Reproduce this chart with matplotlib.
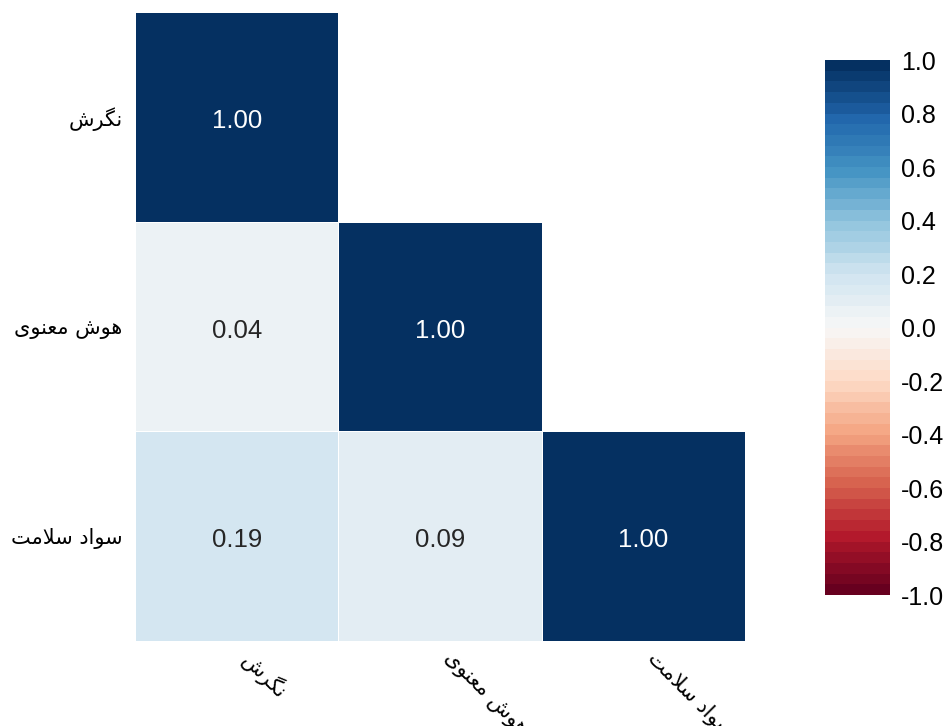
import numpy as np
import matplotlib
matplotlib.use("Agg")
import matplotlib.pyplot as plt
from matplotlib.colors import ListedColormap, BoundaryNorm

# Labels (logical order) and their visual, pre-shaped forms
labels = ["نگرش", "هوش معنوی", "سواد سلامت"]
labels_shaped = [
    "\uFEB5\uFEAE\uFB95\uFEE7",
    "\uFBFC\uFEEE\uFEE8\uFECC\uFEE3 \uFEB5\uFEEE\uFEEB",
    "\uFE96\uFEE3\uFEFC\uFEB3 \uFEA9\uFE8D\uFEEE\uFEB3",
]
corr = np.array([
    [1.00, np.nan, np.nan],
    [0.042, 1.00, np.nan],
    [0.19, 0.09, 1.00],
])
cbar_ticks = [-1.0, -0.8, -0.6, -0.4, -0.2, 0.0, 0.2, 0.4, 0.6, 0.8, 1.0]

plt.rcParams['font.family'] = ['Liberation Sans', 'DejaVu Sans']

n_levels = 50
cmap = ListedColormap(plt.get_cmap('RdBu')(np.linspace(0, 1, n_levels)))
bounds = np.linspace(-1, 1, n_levels + 1)
norm = BoundaryNorm(bounds, n_levels)

fig = plt.figure(figsize=(9.47, 7.26), dpi=100)
ax = fig.add_axes([0.1426, 0.1171, 0.6441, 0.8664])
cax = fig.add_axes([0.8712, 0.1804, 0.0686, 0.7369])

n = len(labels)
data = np.ma.masked_invalid(corr)
mesh = ax.pcolormesh(np.arange(n + 1), np.arange(n + 1), data, cmap=cmap, norm=norm,
                     edgecolor='white', linewidth=0.5)
ax.set_xlim(0, n)
ax.set_ylim(n, 0)
for i in range(n):
    for j in range(n):
        v = corr[i, j]
        if np.isnan(v):
            continue
        col = 'white' if abs(v) > 0.6 else '#262626'
        ax.text(j + 0.5, i + 0.52, f"{v:.2f}", ha='center', va='center',
                fontsize=18.5, color=col)

for s in ax.spines.values():
    s.set_visible(False)
ax.set_xticks(np.arange(n) + 0.5)
ax.set_yticks(np.arange(n) + 0.5)
ax.set_yticklabels(labels_shaped, fontsize=15, family=['DejaVu Sans'])
ax.set_xticklabels(labels_shaped, fontsize=15, family=['DejaVu Sans'],
                   rotation=-45, ha='left', va='top')
ax.tick_params(axis='y', length=0, pad=9)
ax.tick_params(axis='x', length=0, pad=5)

cb = fig.colorbar(mesh, cax=cax, ticks=cbar_ticks, boundaries=bounds)
cb.outline.set_visible(False)
cb.ax.minorticks_off()
cb.ax.tick_params(length=0, labelsize=18, pad=8)
cb.ax.set_yticklabels([f"{t:.1f}" for t in cbar_ticks])

fig.savefig("out.png", dpi=100)
